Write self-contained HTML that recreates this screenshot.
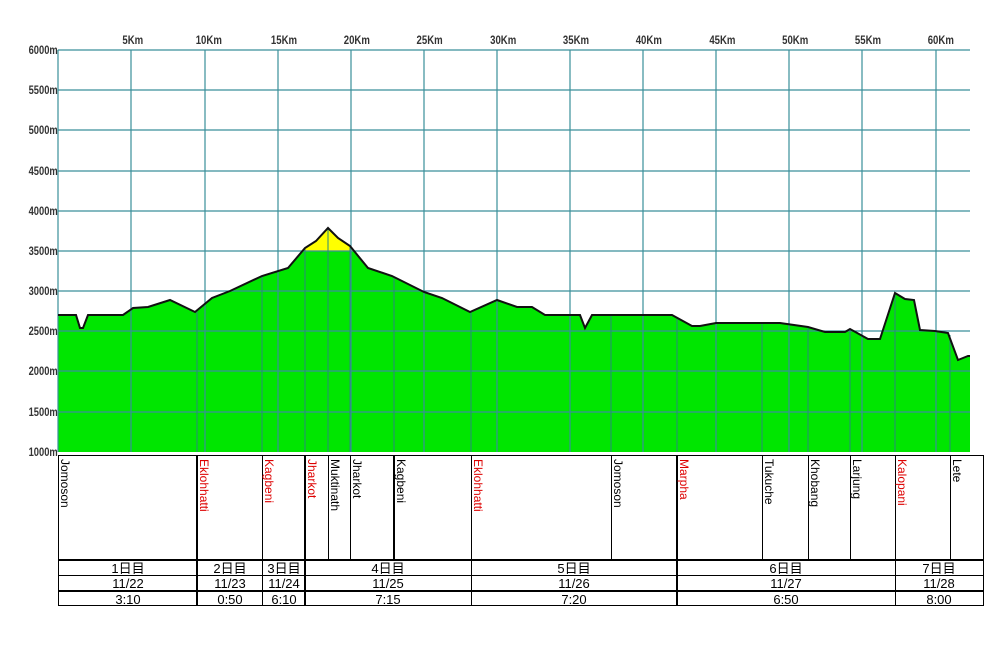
<!DOCTYPE html>
<html><head><meta charset="utf-8"><style>
body{margin:0;background:#fff;}
svg{display:block;font-family:"Liberation Sans","Noto Sans CJK JP",sans-serif;}
</style></head><body>
<svg width="1001" height="645" viewBox="0 0 1001 645" xmlns="http://www.w3.org/2000/svg">
<defs>
<clipPath id="ab"><rect x="58" y="0" width="912" height="251"/></clipPath>
<clipPath id="bl"><rect x="58" y="251" width="912" height="201"/></clipPath>
</defs>
<g id="prof">
<polygon clip-path="url(#bl)" fill="#00e600" points="58,452 58,315 76,315 80,328 83,328 88,315 123,315 133,308 148,307 170,300 195,312 212,298 230,291 262,276 288,268 305,248 316,241 328,228 338,238 350,246 368,268 392,276 424,292 442,298 470,312 497,300 517,307 532,307 545,315 580,315 585,328 592,315 672,315 692,326 700,326 716,323 740,323 780,323 808,327 825,332 845,332 850,329 868,339 880,339 895,293 905,299 914,300 920,330 935,331 948,333 958,360 968,356 970,356 970,452"/>
<polygon clip-path="url(#ab)" fill="#ffff00" points="58,452 58,315 76,315 80,328 83,328 88,315 123,315 133,308 148,307 170,300 195,312 212,298 230,291 262,276 288,268 305,248 316,241 328,228 338,238 350,246 368,268 392,276 424,292 442,298 470,312 497,300 517,307 532,307 545,315 580,315 585,328 592,315 672,315 692,326 700,326 716,323 740,323 780,323 808,327 825,332 845,332 850,329 868,339 880,339 895,293 905,299 914,300 920,330 935,331 948,333 958,360 968,356 970,356 970,452"/>
</g>
<!-- grid -->
<g stroke="#3a8f9a" stroke-width="1.2">
<line x1="58" y1="50" x2="970" y2="50"/><line x1="58" y1="90" x2="970" y2="90"/><line x1="58" y1="130" x2="970" y2="130"/><line x1="58" y1="171" x2="970" y2="171"/><line x1="58" y1="211" x2="970" y2="211"/><line x1="58" y1="251" x2="970" y2="251"/><line x1="58" y1="291" x2="970" y2="291"/><line x1="58" y1="331" x2="970" y2="331"/><line x1="58" y1="371" x2="970" y2="371"/><line x1="58" y1="412" x2="970" y2="412"/>
<line x1="58" y1="50" x2="58" y2="452"/><line x1="131" y1="50" x2="131" y2="452"/><line x1="205" y1="50" x2="205" y2="452"/><line x1="278" y1="50" x2="278" y2="452"/><line x1="351" y1="50" x2="351" y2="452"/><line x1="424" y1="50" x2="424" y2="452"/><line x1="497" y1="50" x2="497" y2="452"/><line x1="570" y1="50" x2="570" y2="452"/><line x1="643" y1="50" x2="643" y2="452"/><line x1="716" y1="50" x2="716" y2="452"/><line x1="789" y1="50" x2="789" y2="452"/><line x1="862" y1="50" x2="862" y2="452"/><line x1="936" y1="50" x2="936" y2="452"/>
</g>
<g stroke="#2a8a7a" stroke-width="1">
<line x1="197" y1="311" x2="197" y2="452"/><line x1="262" y1="276" x2="262" y2="452"/><line x1="305" y1="248" x2="305" y2="452"/><line x1="328" y1="228" x2="328" y2="452"/><line x1="350" y1="246" x2="350" y2="452"/><line x1="394" y1="277" x2="394" y2="452"/><line x1="471" y1="312" x2="471" y2="452"/><line x1="611" y1="315" x2="611" y2="452"/><line x1="677" y1="317" x2="677" y2="452"/><line x1="762" y1="323" x2="762" y2="452"/><line x1="808" y1="327" x2="808" y2="452"/><line x1="850" y1="329" x2="850" y2="452"/><line x1="895" y1="293" x2="895" y2="452"/><line x1="950" y1="335" x2="950" y2="452"/>
</g>
<polyline fill="none" stroke="#111" stroke-width="2" points="58,315 76,315 80,328 83,328 88,315 123,315 133,308 148,307 170,300 195,312 212,298 230,291 262,276 288,268 305,248 316,241 328,228 338,238 350,246 368,268 392,276 424,292 442,298 470,312 497,300 517,307 532,307 545,315 580,315 585,328 592,315 672,315 692,326 700,326 716,323 740,323 780,323 808,327 825,332 845,332 850,329 868,339 880,339 895,293 905,299 914,300 920,330 935,331 948,333 958,360 968,356 970,356"/>
<!-- axis labels -->
<g font-size="12" font-weight="bold" fill="#333" text-anchor="end" transform="scale(0.78,1)">
<text x="74" y="54">6000m</text><text x="74" y="94">5500m</text><text x="74" y="134">5000m</text><text x="74" y="175">4500m</text><text x="74" y="215">4000m</text><text x="74" y="255">3500m</text><text x="74" y="295">3000m</text><text x="74" y="335">2500m</text><text x="74" y="375">2000m</text><text x="74" y="416">1500m</text><text x="74" y="456">1000m</text>
</g>
<g font-size="12" font-weight="bold" fill="#333" text-anchor="middle" transform="scale(0.8,1)">
<text x="166" y="44">5Km</text><text x="261" y="44">10Km</text><text x="355" y="44">15Km</text><text x="446" y="44">20Km</text><text x="537" y="44">25Km</text><text x="629" y="44">30Km</text><text x="720" y="44">35Km</text><text x="811" y="44">40Km</text><text x="903" y="44">45Km</text><text x="994" y="44">50Km</text><text x="1085" y="44">55Km</text><text x="1176" y="44">60Km</text>
</g>
<!-- table -->
<g stroke="#000" fill="none">
<rect x="58.5" y="455.5" width="925" height="150" stroke-width="1"/>
<line x1="58" y1="560" x2="984" y2="560" stroke-width="2"/>
<line x1="58" y1="575.5" x2="984" y2="575.5"/>
<line x1="58" y1="591" x2="984" y2="591" stroke-width="2"/>
<g stroke-width="2"><line x1="197" y1="455" x2="197" y2="606"/><line x1="305" y1="455" x2="305" y2="606"/><line x1="677" y1="455" x2="677" y2="606"/></g>
<line x1="262.5" y1="455" x2="262.5" y2="606"/><line x1="471.5" y1="455" x2="471.5" y2="606"/><line x1="895.5" y1="455" x2="895.5" y2="606"/>
<line x1="394" y1="455" x2="394" y2="560" stroke-width="2"/>
<line x1="328.5" y1="455" x2="328.5" y2="560"/><line x1="350.5" y1="455" x2="350.5" y2="560"/><line x1="611.5" y1="455" x2="611.5" y2="560"/><line x1="762.5" y1="455" x2="762.5" y2="560"/><line x1="808.5" y1="455" x2="808.5" y2="560"/><line x1="850.5" y1="455" x2="850.5" y2="560"/><line x1="950.5" y1="455" x2="950.5" y2="560"/>
</g>
<g font-size="12">
<text transform="translate(61,459) rotate(90)" fill="#000">Jomoson</text>
<text transform="translate(200,459) rotate(90)" fill="#d00">Eklohhatti</text>
<text transform="translate(265,459) rotate(90)" fill="#d00">Kagbeni</text>
<text transform="translate(308,459) rotate(90)" fill="#d00">Jharkot</text>
<text transform="translate(331,459) rotate(90)" fill="#000">Muktinath</text>
<text transform="translate(353,459) rotate(90)" fill="#000">Jharkot</text>
<text transform="translate(397,459) rotate(90)" fill="#000">Kagbeni</text>
<text transform="translate(474,459) rotate(90)" fill="#d00">Eklohhatti</text>
<text transform="translate(614,459) rotate(90)" fill="#000">Jomoson</text>
<text transform="translate(680,459) rotate(90)" fill="#d00">Marpha</text>
<text transform="translate(765,459) rotate(90)" fill="#000">Tukuche</text>
<text transform="translate(811,459) rotate(90)" fill="#000">Khobang</text>
<text transform="translate(853,459) rotate(90)" fill="#000">Larjung</text>
<text transform="translate(898,459) rotate(90)" fill="#d00">Kalopani</text>
<text transform="translate(953,459) rotate(90)" fill="#000">Lete</text>
</g>
<g font-size="13" fill="#000" text-anchor="middle">
<text x="128" y="573">1日目</text><text x="230" y="573">2日目</text><text x="284" y="573">3日目</text><text x="388" y="573">4日目</text><text x="574" y="573">5日目</text><text x="786" y="573">6日目</text><text x="939" y="573">7日目</text>
<text x="128" y="588">11/22</text><text x="230" y="588">11/23</text><text x="284" y="588">11/24</text><text x="388" y="588">11/25</text><text x="574" y="588">11/26</text><text x="786" y="588">11/27</text><text x="939" y="588">11/28</text>
<text x="128" y="604">3:10</text><text x="230" y="604">0:50</text><text x="284" y="604">6:10</text><text x="388" y="604">7:15</text><text x="574" y="604">7:20</text><text x="786" y="604">6:50</text><text x="939" y="604">8:00</text>
</g>
</svg>
</body></html>
